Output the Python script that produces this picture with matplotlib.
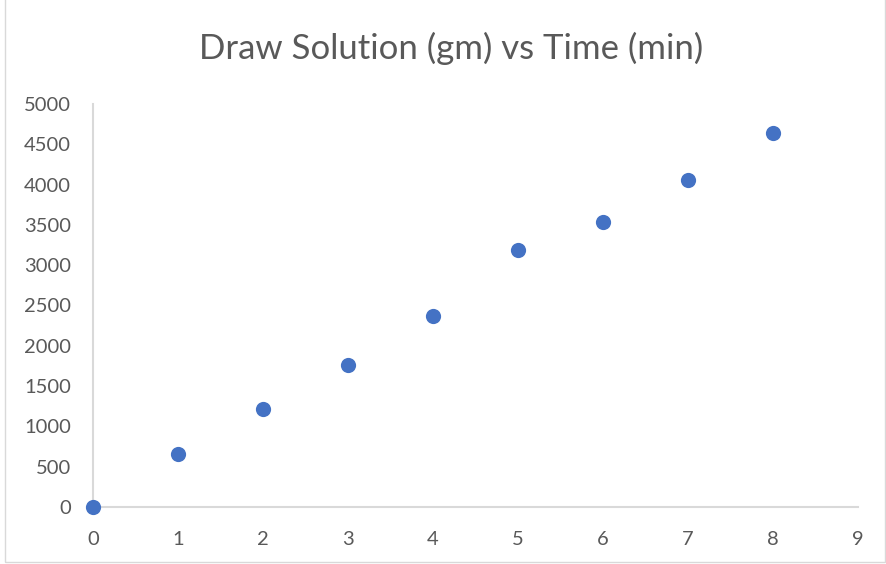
import matplotlib
matplotlib.use("Agg")
import matplotlib.pyplot as plt
from matplotlib.patches import Rectangle

# Time (min) and draw solution mass (gm)
time_min = [0, 1, 2, 3, 4, 5, 6, 7, 8]
draw_gm = [0, 663, 1213, 1764, 2372, 3191, 3535, 4056, 4636]

x_ticks = list(range(0, 10))
y_ticks = list(range(0, 5001, 500))

TEXT = "#595959"
AXIS = "#d9d9d9"
BLUE = "#4472C4"

plt.rcParams["font.family"] = ["Lato", "DejaVu Sans"]

fig = plt.figure(figsize=(8.87, 5.64), dpi=100)
ax = fig.add_axes([93 / 887, 57 / 564, (858 - 93) / 887, (507 - 104) / 564])

ax.scatter(time_min, draw_gm, s=120, color=BLUE, zorder=5, clip_on=False,
           linewidths=0)

ax.set_xlim(0, 9)
ax.set_ylim(0, 5000)
ax.set_xticks(x_ticks)
ax.set_yticks(y_ticks)
ax.tick_params(length=0, labelsize=14.5, labelcolor=TEXT)
ax.tick_params(axis="x", pad=17)
ax.tick_params(axis="y", pad=16)

for side in ("top", "right"):
    ax.spines[side].set_visible(False)
for side in ("left", "bottom"):
    ax.spines[side].set_color(AXIS)
    ax.spines[side].set_linewidth(1.5)

fig.text(451 / 887, 1 - 48 / 564, "Draw Solution (gm) vs Time (min)",
         ha="center", va="center", fontsize=25, color=TEXT)

# thin chart-area border
fig.patches.append(Rectangle((5 / 887, 2 / 564), 880 / 887, 600 / 564,
                             transform=fig.transFigure, fill=False,
                             edgecolor=AXIS, linewidth=1))

fig.savefig("out.png", dpi=100, facecolor="white")
